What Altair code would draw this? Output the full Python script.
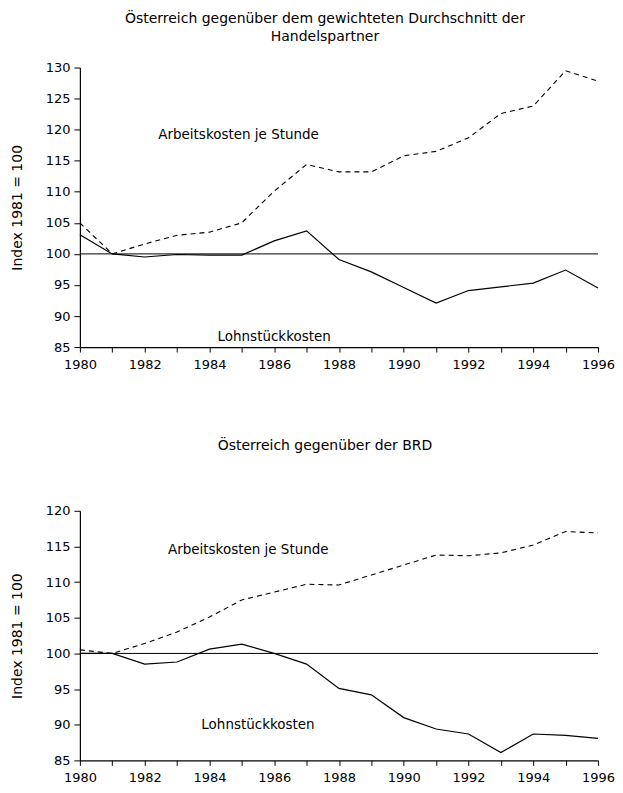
import altair as alt
import pandas as pd

years = list(range(1980, 1997))
top_lsk = [103.1, 100.0, 99.5, 99.9, 99.8, 99.8, 102.1, 103.7, 99.1, 97.1, 94.6, 92.1, 94.1, 94.7, 95.3, 97.4, 94.5]
top_ak = [105.0, 100.0, 101.6, 103.0, 103.5, 105.0, 110.1, 114.4, 113.2, 113.2, 115.8, 116.5, 118.7, 122.6, 123.8, 129.5, 127.8]
bot_lsk = [100.0, 100.0, 98.5, 98.8, 100.6, 101.3, 100.0, 98.5, 95.1, 94.2, 91.0, 89.4, 88.7, 86.1, 88.7, 88.5, 88.1]
bot_ak = [100.5, 100.0, 101.4, 103.0, 105.1, 107.5, 108.6, 109.7, 109.6, 111.0, 112.4, 113.8, 113.7, 114.1, 115.2, 117.1, 116.9]

top_title = ["Österreich gegenüber dem gewichteten Durchschnitt der", "Handelspartner"]
bot_title = "Österreich gegenüber der BRD"
series_names = ["Lohnstückkosten", "Arbeitskosten je Stunde"]
top_label_pos = {"Arbeitskosten je Stunde": (1984.9, 119.2), "Lohnstückkosten": (1986.0, 86.6)}
bot_label_pos = {"Arbeitskosten je Stunde": (1985.2, 114.5), "Lohnstückkosten": (1985.5, 90.0)}

FONT = "DejaVu Sans"


def panel(lsk, ak, ymax, title, label_pos, h, title_offset):
    df = pd.DataFrame({"Jahr": years, "Lohnstückkosten": lsk, "Arbeitskosten je Stunde": ak})
    xs = alt.Scale(domain=[1980, 1996], nice=False, zero=False)
    ys = alt.Scale(domain=[85, ymax], nice=False, zero=False)
    xax = alt.Axis(values=years, format="d", grid=False, labelOverlap=False, labelFlush=False,
                   labelExpr="datum.value % 2 == 0 ? datum.label : ''",
                   title=None, labelPadding=6, tickSize=5)
    yax = alt.Axis(values=list(range(85, ymax + 1, 5)), grid=False, labelOverlap=False,
                   labelFlush=False,
                   title="Index 1981 = 100", titlePadding=21, tickSize=6, labelPadding=4)
    base = alt.Chart(df)
    ref = alt.Chart(pd.DataFrame({"y": [100]})).mark_rule(color="black", strokeWidth=1).encode(
        y=alt.Y("y:Q", scale=ys, axis=yax))
    l1 = base.mark_line(color="black", strokeWidth=1.2).encode(
        x=alt.X("Jahr:Q", scale=xs, axis=xax),
        y=alt.Y("Lohnstückkosten:Q", scale=ys, axis=yax))
    l2 = base.mark_line(color="black", strokeWidth=1.1, strokeDash=[5, 4]).encode(
        x=alt.X("Jahr:Q", scale=xs, axis=xax),
        y=alt.Y("Arbeitskosten je Stunde:Q", scale=ys, axis=yax))
    lab = pd.DataFrame({"name": series_names,
                        "x": [label_pos[n][0] for n in series_names],
                        "y": [label_pos[n][1] for n in series_names]})
    txt = alt.Chart(lab).mark_text(font=FONT, fontSize=13.5, color="black").encode(
        x=alt.X("x:Q", scale=xs, axis=xax), y=alt.Y("y:Q", scale=ys, axis=yax), text="name:N")
    return alt.layer(ref, l1, l2, txt).properties(
        width=519, height=h,
        title=alt.TitleParams(title, fontSize=14, fontWeight="normal", font=FONT,
                              anchor="middle", offset=title_offset, dx=-14, color="black",
                              lineHeight=18))


top = panel(top_lsk, top_ak, 130, top_title, top_label_pos, 280, 18)
bot = panel(bot_lsk, bot_ak, 120, bot_title, bot_label_pos, 250, 52)

chart = alt.vconcat(top, bot, spacing=68).configure_view(stroke=None).configure_axis(
    labelFont=FONT, titleFont=FONT, labelFontSize=13, titleFontSize=14, titleFontWeight="normal",
    labelColor="black", titleColor="black", domainColor="black", tickColor="black",
    domainWidth=1.2, tickWidth=1, labelOverlap=False
).properties(padding={"left": 2, "top": 3, "right": 0, "bottom": 0}, background="white")

chart.save("out.html", embed_options={"renderer": "svg", "actions": False})
